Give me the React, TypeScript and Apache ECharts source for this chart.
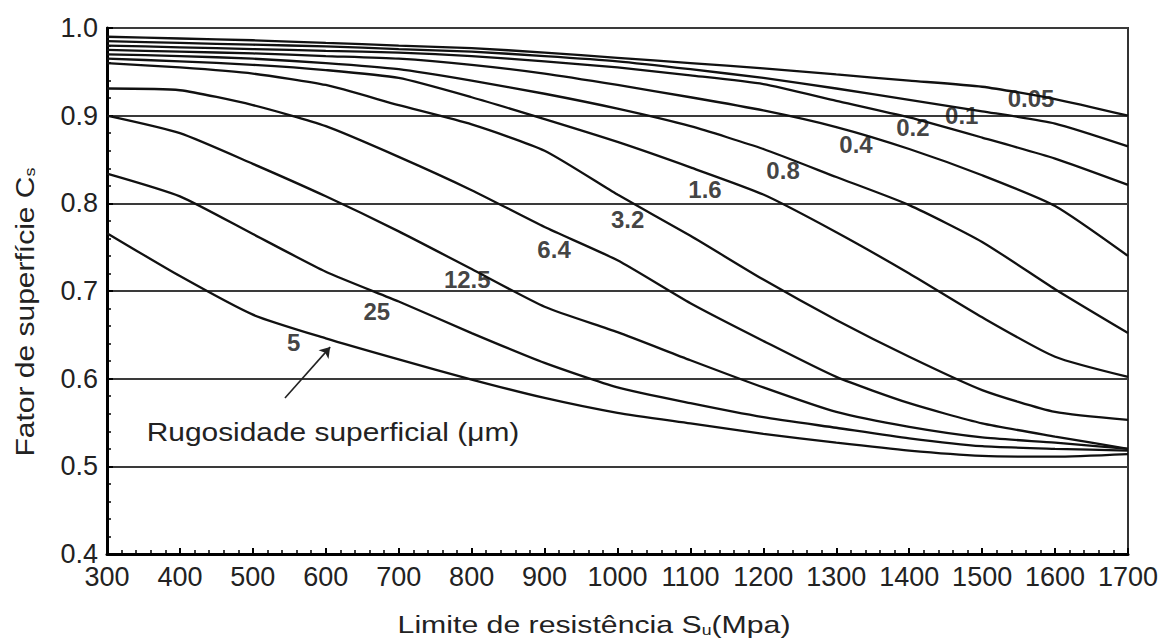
import React, { useEffect, useRef } from "react";
import * as echarts from "echarts";

// Limite de resistência Su (MPa)
const MPA = [300, 400, 500, 600, 700, 800, 900, 1000, 1100, 1200, 1300, 1400, 1500, 1600, 1700];

// Fator de superfície Cs for each rugosidade (µm)
const R005 = [0.990, 0.988, 0.986, 0.983, 0.980, 0.977, 0.972, 0.966, 0.960, 0.954, 0.947, 0.940, 0.933, 0.919, 0.900];
const R01 = [0.985, 0.983, 0.981, 0.979, 0.976, 0.973, 0.968, 0.962, 0.953, 0.943, 0.931, 0.918, 0.905, 0.891, 0.865];
const R02 = [0.980, 0.978, 0.976, 0.974, 0.972, 0.968, 0.962, 0.955, 0.946, 0.936, 0.917, 0.898, 0.875, 0.851, 0.821];
const R04 = [0.975, 0.973, 0.971, 0.968, 0.965, 0.958, 0.948, 0.935, 0.921, 0.906, 0.887, 0.862, 0.832, 0.797, 0.740];
const R08 = [0.970, 0.968, 0.965, 0.960, 0.953, 0.940, 0.925, 0.908, 0.888, 0.862, 0.830, 0.798, 0.756, 0.702, 0.652];
const R16 = [0.965, 0.962, 0.958, 0.952, 0.943, 0.921, 0.896, 0.870, 0.841, 0.810, 0.767, 0.720, 0.670, 0.625, 0.602];
const R32 = [0.960, 0.955, 0.948, 0.935, 0.912, 0.890, 0.860, 0.810, 0.763, 0.713, 0.667, 0.625, 0.587, 0.562, 0.553];
const R64 = [0.931, 0.929, 0.912, 0.888, 0.853, 0.815, 0.773, 0.735, 0.686, 0.643, 0.602, 0.572, 0.549, 0.534, 0.520];
const R125 = [0.900, 0.880, 0.845, 0.808, 0.768, 0.725, 0.682, 0.653, 0.621, 0.590, 0.562, 0.545, 0.533, 0.527, 0.520];
const R25 = [0.834, 0.808, 0.765, 0.722, 0.688, 0.652, 0.618, 0.590, 0.572, 0.556, 0.544, 0.532, 0.523, 0.520, 0.518];
const R50 = [0.766, 0.717, 0.673, 0.646, 0.622, 0.599, 0.578, 0.561, 0.549, 0.537, 0.527, 0.518, 0.512, 0.511, 0.514];

const SERIES_NAMES = ["0.05", "0.1", "0.2", "0.4", "0.8", "1.6", "3.2", "6.4", "12.5", "25", "50"];
const SERIES_VALUES = [R005, R01, R02, R04, R08, R16, R32, R64, R125, R25, R50];

// curve labels (text, MPa, Cs)
const LABEL_TEXT = ["0.05", "0.1", "0.2", "0.4", "0.8", "1.6", "3.2", "6.4", "12.5", "25", "5"];
const LABEL_X = [1567, 1472, 1405, 1327, 1227, 1120, 1014, 913, 794, 670, 556];
const LABEL_Y = [0.920, 0.900, 0.887, 0.867, 0.838, 0.816, 0.781, 0.747, 0.713, 0.677, 0.641];

// arrow for annotation (MPa, Cs)
const ARROW_FROM = [544, 0.578];
const ARROW_TO = [606, 0.636];

const X_MIN = 300;
const X_MAX = 1700;
const Y_MIN = 0.4;
const Y_MAX = 1.0;

const FONT = "Liberation Sans, Arial, sans-serif";

export default function App() {
  const ref = useRef<HTMLDivElement>(null);

  useEffect(() => {
    if (!ref.current) return;
    const chart = echarts.init(ref.current, null, { renderer: "svg" });

    const lineSeries = SERIES_VALUES.map((vals, k) => ({
      name: SERIES_NAMES[k],
      type: "line",
      data: MPA.map((x, i) => [x, vals[i]]),
      showSymbol: false,
      symbol: "none",
      smooth: 0.2,
      lineStyle: { color: "#111", width: 2.3 },
      z: 3,
    }));

    const option: any = {
      animation: false,
      backgroundColor: "#fff",
      grid: {
        left: 107,
        right: 38,
        top: 28,
        bottom: 86,
        show: true,
        borderColor: "#333",
        borderWidth: 2,
        backgroundColor: "transparent",
      },
      xAxis: {
        type: "value",
        min: X_MIN,
        max: X_MAX,
        interval: 100,
        axisLine: { show: true, onZero: false, lineStyle: { color: "#000", width: 3 } },
        axisTick: { show: true, inside: true, length: 6, lineStyle: { color: "#000", width: 2 } },
        minorTick: { show: true, splitNumber: 5, length: 4, lineStyle: { color: "#000", width: 1.5 } },
        axisLabel: {
          fontSize: 27,
          color: "#222",
          margin: 9,
          fontFamily: FONT,
          formatter: (v: number) => String(v),
        },
        splitLine: { show: false },
      },
      yAxis: {
        type: "value",
        min: Y_MIN,
        max: Y_MAX,
        interval: 0.1,
        axisLine: { show: true, onZero: false, lineStyle: { color: "#000", width: 3 } },
        axisTick: { show: true, inside: true, length: 6, lineStyle: { color: "#000", width: 2 } },
        minorTick: { show: true, splitNumber: 5, length: 4, lineStyle: { color: "#000", width: 1.5 } },
        axisLabel: {
          fontSize: 27,
          color: "#222",
          margin: 9,
          fontFamily: FONT,
          formatter: (v: number) => v.toFixed(1),
        },
        splitLine: { show: true, lineStyle: { color: "#3a3a3a", width: 2 } },
      },
      series: [
        ...lineSeries,
        {
          type: "scatter",
          symbolSize: 0,
          z: 5,
          data: LABEL_TEXT.map((t, i) => ({ name: t, value: [LABEL_X[i], LABEL_Y[i]] })),
          label: {
            show: true,
            position: "inside",
            formatter: "{b}",
            fontSize: 24,
            fontWeight: "bold",
            color: "#111",
            fontFamily: FONT,
          },
          emphasis: { disabled: true },
          silent: true,
        },
        {
          type: "lines",
          coordinateSystem: "cartesian2d",
          z: 5,
          symbol: ["none", "arrow"],
          symbolSize: 10,
          lineStyle: { color: "#222", width: 1.6, opacity: 1 },
          data: [{ coords: [ARROW_FROM, ARROW_TO] }],
          silent: true,
        },
      ],
      graphic: [
        {
          type: "text",
          x: 594,
          y: 625,
          scaleX: 1.26,
          style: {
            text: "Limite de resistência S{sub|u}(Mpa)",
            fontSize: 24,
            fontFamily: FONT,
            fill: "#222",
            align: "center",
            verticalAlign: "middle",
            rich: {
              sub: { fontSize: 14, fontFamily: FONT, fill: "#222", verticalAlign: "bottom" },
            },
          },
        },
        {
          type: "text",
          x: 25,
          y: 312,
          rotation: Math.PI / 2,
          scaleX: 1.2,
          style: {
            text: "Fator de superfície C{sub|s}",
            fontSize: 25,
            fontFamily: FONT,
            fill: "#222",
            align: "center",
            verticalAlign: "middle",
            rich: {
              sub: { fontSize: 15, fontFamily: FONT, fill: "#222", verticalAlign: "bottom" },
            },
          },
        },
        {
          type: "text",
          x: 333,
          y: 432,
          scaleX: 1.15,
          style: {
            text: "Rugosidade superficial (μm)",
            fontSize: 26,
            fontFamily: FONT,
            fill: "#222",
            align: "center",
            verticalAlign: "middle",
          },
        },
      ],
    };

    chart.setOption(option);
    return () => {
      chart.dispose();
    };
  }, []);

  return (
    <div
      ref={ref}
      style={{ position: "absolute", left: 0, top: 0, width: 1166, height: 640, background: "#fff" }}
    />
  );
}
